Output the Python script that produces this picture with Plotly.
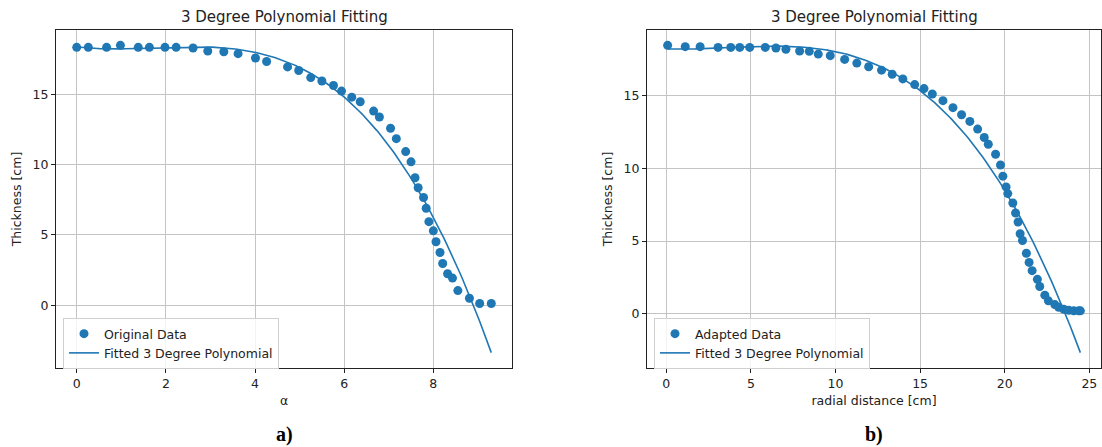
import numpy as np
import plotly.graph_objects as go

# Panel a) original measurements: thickness against alpha
alpha = [0.0, 0.26, 0.67, 0.98, 1.38, 1.63, 1.98, 2.23, 2.61, 2.94, 3.30, 3.62,
         4.01, 4.26, 4.73, 4.98, 5.25, 5.50, 5.76, 5.94, 6.17, 6.36, 6.66, 6.79,
         7.04, 7.17, 7.38, 7.50, 7.59, 7.66, 7.78, 7.84, 7.90, 8.00, 8.06, 8.15,
         8.21, 8.32, 8.43, 8.55, 8.81, 9.04, 9.30]
thick_a = [18.33, 18.33, 18.33, 18.47, 18.33, 18.33, 18.33, 18.33, 18.28, 18.07, 18.02, 17.88,
           17.57, 17.32, 16.94, 16.68, 16.18, 15.94, 15.62, 15.22, 14.79, 14.46, 13.80, 13.38,
           12.58, 11.84, 10.92, 10.19, 9.06, 8.35, 7.66, 6.89, 5.94, 5.29, 4.51, 3.75,
           2.97, 2.24, 1.93, 1.04, 0.50, 0.12, 0.12]

# Panel b) adapted data: thickness against radial distance
radial = [0.08, 1.12, 2.00, 3.06, 3.81, 4.34, 4.93, 5.85, 6.48, 7.07, 7.88, 8.45,
          8.98, 9.69, 10.54, 11.26, 11.96, 12.72, 13.35, 13.98, 14.68, 15.23, 15.72, 16.35,
          16.94, 17.45, 17.94, 18.40, 18.79, 19.03, 19.46, 19.75, 19.89, 20.08, 20.18, 20.48,
          20.64, 20.79, 20.91, 21.05, 21.28, 21.44, 21.62, 21.93, 22.07, 22.37, 22.58, 22.96,
          23.19, 23.49, 23.78, 24.08, 24.37, 24.47]
thick_b = [18.48, 18.39, 18.39, 18.34, 18.34, 18.34, 18.34, 18.34, 18.30, 18.21, 18.09, 18.07,
           17.88, 17.77, 17.51, 17.26, 17.01, 16.77, 16.49, 16.17, 15.78, 15.50, 15.13, 14.67,
           14.19, 13.70, 13.24, 12.71, 12.13, 11.67, 10.98, 10.24, 9.47, 8.73, 8.27, 7.62,
           6.93, 6.31, 5.50, 5.04, 4.16, 3.53, 2.96, 2.36, 1.87, 1.27, 0.88, 0.62,
           0.44, 0.30, 0.23, 0.19, 0.19, 0.19]

y_ticks = [0, 5, 10, 15]
xa_ticks = [0, 2, 4, 6, 8]
xb_ticks = [0, 5, 10, 15, 20, 25]

BLUE = "#1f77b4"
W, H = 1102, 447
FONT = "DejaVu Sans"
FS = 12.5


def cubic_fit(x, y):
    coeffs = np.polyfit(x, y, 3)
    xs = np.linspace(min(x), max(x), 200)
    return xs, np.polyval(coeffs, xs)


def padded(values):
    lo, hi = min(values), max(values)
    pad = 0.05 * (hi - lo)
    return [lo - pad, hi + pad]


fit_ax, fit_ay = cubic_fit(alpha, thick_a)
fit_bx, fit_by = cubic_fit(radial, thick_b)

fig = go.Figure()
fig.add_trace(go.Scatter(x=alpha, y=thick_a, mode="markers", name="Original Data",
                         marker=dict(color=BLUE, size=9), xaxis="x", yaxis="y", legend="legend"))
fig.add_trace(go.Scatter(x=fit_ax, y=fit_ay, mode="lines", name="Fitted 3 Degree Polynomial",
                         line=dict(color=BLUE, width=1.6), xaxis="x", yaxis="y", legend="legend"))
fig.add_trace(go.Scatter(x=radial, y=thick_b, mode="markers", name="Adapted Data",
                         marker=dict(color=BLUE, size=9), xaxis="x2", yaxis="y2", legend="legend2"))
fig.add_trace(go.Scatter(x=fit_bx, y=fit_by, mode="lines", name="Fitted 3 Degree Polynomial",
                         line=dict(color=BLUE, width=1.6), xaxis="x2", yaxis="y2", legend="legend2"))

axis_common = dict(
    showline=True, mirror=True, linecolor="#222", linewidth=1,
    showgrid=True, gridcolor="#c4c4c4", gridwidth=1, zeroline=False,
    ticks="outside", ticklen=4, tickcolor="#222", tickwidth=1,
    tickfont=dict(family=FONT, size=FS, color="#222"),
)
title_font = dict(family=FONT, size=FS, color="#222")
legend_common = dict(
    yanchor="top", xanchor="left", y=(H - 318) / H,
    bgcolor="rgba(255,255,255,0.8)", bordercolor="#d0d0d0", borderwidth=1,
    font=dict(family=FONT, size=FS, color="#222"), itemwidth=30, tracegroupgap=0,
)

y_dom = [(H - 368) / H, (H - 30) / H]
xa_dom = [56 / W, 512 / W]
xb_dom = [647 / W, 1101 / W]
fig.update_layout(
    width=W, height=H, margin=dict(l=0, r=0, t=0, b=0),
    paper_bgcolor="white", plot_bgcolor="white",
    xaxis=dict(domain=xa_dom, range=padded(alpha), tickvals=xa_ticks,
               title=dict(text="α", font=title_font, standoff=6), anchor="y", **axis_common),
    yaxis=dict(domain=y_dom, range=padded(thick_a + list(fit_ay)), tickvals=y_ticks,
               title=dict(text="Thickness [cm]", font=title_font, standoff=8), anchor="x",
               **axis_common),
    xaxis2=dict(domain=xb_dom, range=padded(radial), tickvals=xb_ticks,
                title=dict(text="radial distance [cm]", font=title_font, standoff=6), anchor="y2",
                **axis_common),
    yaxis2=dict(domain=y_dom, range=padded(thick_b + list(fit_by)), tickvals=y_ticks,
                title=dict(text="Thickness [cm]", font=title_font, standoff=8), anchor="x2",
                **axis_common),
    legend=dict(x=63 / W, **legend_common),
    legend2=dict(x=654 / W, **legend_common),
    showlegend=True,
)

# Panel titles and captions
for dom, cap in [(xa_dom, "a)"), (xb_dom, "b)")]:
    cx = (dom[0] + dom[1]) / 2
    fig.add_annotation(x=cx, y=(H - 16.5) / H, xref="paper", yref="paper",
                       xanchor="center", yanchor="middle",
                       text="3 Degree Polynomial Fitting", showarrow=False,
                       font=dict(family=FONT, size=15, color="#222"))
    fig.add_annotation(x=cx, y=(H - 434) / H, xref="paper", yref="paper",
                       xanchor="center", yanchor="middle",
                       text="<b>" + cap + "</b>", showarrow=False,
                       font=dict(family="Liberation Serif", size=20, color="black"))

fig.write_html("out.html")
